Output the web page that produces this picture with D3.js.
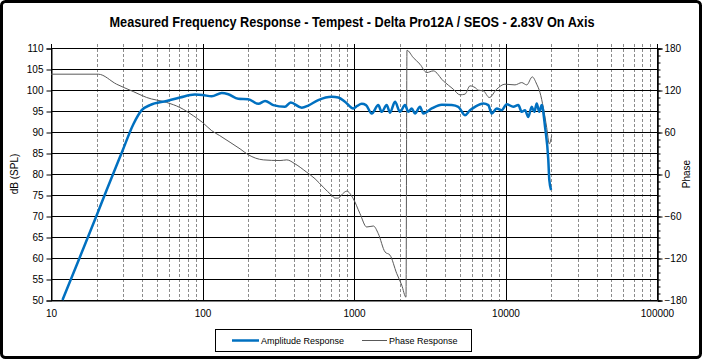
<!DOCTYPE html>
<html><head><meta charset="utf-8">
<script src="https://cdn.jsdelivr.net/npm/d3@7"></script>
<style>
html,body{margin:0;padding:0;background:#fff;}
svg{display:block;}
text{font-family:"Liberation Sans",Arial,sans-serif;fill:#000;}
</style></head>
<body>
<svg id="c" width="702" height="359"></svg>
<script>
const title = "Measured Frequency Response - Tempest - Delta Pro12A / SEOS - 2.83V On Axis";
const ampTicks = [50,55,60,65,70,75,80,85,90,95,100,105,110];
const phaseTicks = [-180,-120,-60,0,60,120,180];
const freqTicks = [10,100,1000,10000,100000];

const ampFreq = [11.9,15.5,20.0,23.3,29.7,34.9,39.7,45,58,71,89,100,115,134,148,172,200,234,259,293,350,382,452,499,581,713,788,872,989,1050,1124,1200,1309,1446,1523,1644,1729,1865,2012,2171,2283,2404,2527,2727,2867,3258,3792,4416,4880,5404,5833,6291,7138,7701,8110,8750,9441,10185,11260,12150,12794,13450,14140,14894,15490,16070,16720,17340,18230,19170,19460,20000];
const ampDb   = [50,60.2,70.1,76.2,85.6,91.8,95.2,96.4,97.4,98.2,98.9,98.8,98.5,99.3,99.0,97.9,97.8,96.7,97.4,96.4,96.0,97.0,95.8,96.3,97.6,98.4,98.2,97.2,95.6,96.2,96.7,96.4,94.4,96.4,94.8,96.4,94.6,97.2,94.8,96.4,94.8,95.6,94.4,96.0,94.4,95.6,96.5,96.4,96.0,94.0,95.2,96.0,96.8,96.4,94.4,95.6,95.2,96.6,96.0,96.4,94.8,95.2,93.6,96.0,94.8,96.8,94.8,96.4,91.3,83.3,78.6,76.2];

const phFreq = [10,20.5,27.1,34.9,42.8,58,71,87,100,115,130,152,177,200,252,325,360,408,487,553,627,713,749,788,842,895,989,1095,1213,1343,1446,1602,1729,1913,2065,2204,2237,2463,2727,3020,3338,3885,4523,5008,5404,5833,6291,6614,7138,7818,8750,9924,11553,12794,13800,15030,16070,16892,17764,18700,19460,20180];
const phDeg  = [142.6,142.6,128.3,117.8,109.3,102.2,95.0,83.2,73.7,61.9,54.8,45.3,35.9,27.7,20.2,19.2,20.2,14.5,2.6,-6.8,-18.8,-30.6,-34.4,-34.4,-28.2,-24.5,-35.3,-56.6,-75.7,-74.3,-85.1,-111.3,-116,-142,-158.7,-176,176.7,166.2,156.8,144.9,147.3,133,121.2,113.1,114.1,125.9,123.5,119.8,118.8,109.3,121.2,128.3,127.3,130.6,127.3,138.7,128.3,116.4,95.0,66.6,43,55];

const svg = d3.select("#c");
const L=51, R=657, T=48, B=300;
const x = d3.scaleLog().domain([10,100000]).range([L,R]);
const yA = d3.scaleLinear().domain([50,110]).range([B,T]);
const yP = d3.scaleLinear().domain([-180,180]).range([B,T]);

// outer frame
svg.append("rect").attr("x",1.5).attr("y",1.5).attr("width",699).attr("height",356)
  .attr("rx",4).attr("fill","#fff").attr("stroke","#000").attr("stroke-width",3);

svg.append("text").attr("x",352).attr("y",27).attr("text-anchor","middle")
  .attr("textLength",485).attr("lengthAdjust","spacingAndGlyphs")
  .style("font-family",'"Liberation Sans Narrow","Arial Narrow","Liberation Sans",sans-serif')
  .style("font-weight","bold").style("font-size","14px").text(title);

// minor vertical gridlines
const minor=[];
for(let d=10; d<100000; d*=10) for(let k=2;k<=9;k++) minor.push(d*k);
svg.append("g").selectAll("line").data(minor).join("line")
  .attr("x1",d=>Math.round(x(d))+0.5).attr("x2",d=>Math.round(x(d))+0.5)
  .attr("y1",T-4).attr("y2",B).attr("stroke","#8c8c8c").attr("stroke-width",1)
  .attr("stroke-dasharray","3,2");
// horizontal gridlines
svg.append("g").selectAll("line").data(ampTicks).join("line")
  .attr("x1",L).attr("x2",R).attr("y1",d=>Math.round(yA(d))+0.5).attr("y2",d=>Math.round(yA(d))+0.5)
  .attr("stroke","#000").attr("stroke-width",1);
// major vertical gridlines
svg.append("g").selectAll("line").data(freqTicks).join("line")
  .attr("x1",d=>Math.round(x(d))+0.5).attr("x2",d=>Math.round(x(d))+0.5)
  .attr("y1",T-4).attr("y2",B).attr("stroke","#000").attr("stroke-width",1);

// left axis
const ax = svg.append("g").attr("transform",`translate(${L+0.5},0.5)`)
  .call(d3.axisLeft(yA).tickValues(ampTicks).tickSize(5).tickPadding(3));
ax.select(".domain").attr("stroke","#000");
ax.selectAll("text").style("font-size","10px").attr("fill","#000");
// right axis minor
const pminor = d3.range(-180,181,10);
svg.append("g").attr("transform",`translate(${R+0.5},0.5)`)
  .call(d3.axisRight(yP).tickValues(pminor).tickSize(3).tickFormat(""))
  .select(".domain").attr("stroke","#000");
const ar = svg.append("g").attr("transform",`translate(${R+0.5},0.5)`)
  .call(d3.axisRight(yP).tickValues(phaseTicks).tickSize(5).tickPadding(2));
ar.selectAll("text").style("font-size","10px").attr("fill","#000");
// bottom axis
const ab = svg.append("g").attr("transform",`translate(0,${B+0.5})`)
  .call(d3.axisBottom(x).tickValues(freqTicks).tickSize(0).tickPadding(9).tickFormat(d3.format("d")));
ab.select(".domain").attr("stroke","#000");
ab.selectAll("text").style("font-size","10px").attr("fill","#000");

svg.append("text").attr("transform","translate(18,174) rotate(-90)").attr("text-anchor","middle")
  .style("font-size","10px").text("dB (SPL)");
svg.append("text").attr("transform","translate(690,174) rotate(-90)").attr("text-anchor","middle")
  .style("font-size","10px").text("Phase");

// series
const phData = phFreq.map((f,i)=>[f,phDeg[i]]);
const ampData = ampFreq.map((f,i)=>[f,ampDb[i]]);
svg.append("path").datum(phData)
  .attr("d",d3.line().x(d=>x(d[0])).y(d=>yP(d[1])).curve(d3.curveMonotoneX))
  .attr("fill","none").attr("stroke","#595959").attr("stroke-width",1);
svg.append("path").datum(ampData)
  .attr("d",d3.line().x(d=>x(d[0])).y(d=>yA(d[1])).curve(d3.curveMonotoneX))
  .attr("fill","none").attr("stroke","#0070C0").attr("stroke-width",2.5);

// legend
const lg = svg.append("g");
lg.append("rect").attr("x",215.5).attr("y",329.5).attr("width",256).attr("height",22)
  .attr("fill","#fff").attr("stroke","#000").attr("stroke-width",1);
lg.append("line").attr("x1",232).attr("x2",259).attr("y1",340.5).attr("y2",340.5)
  .attr("stroke","#0070C0").attr("stroke-width",2.5);
lg.append("text").attr("x",261).attr("y",344).style("font-size","9px").text("Amplitude Response");
lg.append("line").attr("x1",362).attr("x2",387).attr("y1",340.5).attr("y2",340.5)
  .attr("stroke","#595959").attr("stroke-width",1);
lg.append("text").attr("x",389).attr("y",344).style("font-size","9px").text("Phase Response");
</script>
</body></html>
